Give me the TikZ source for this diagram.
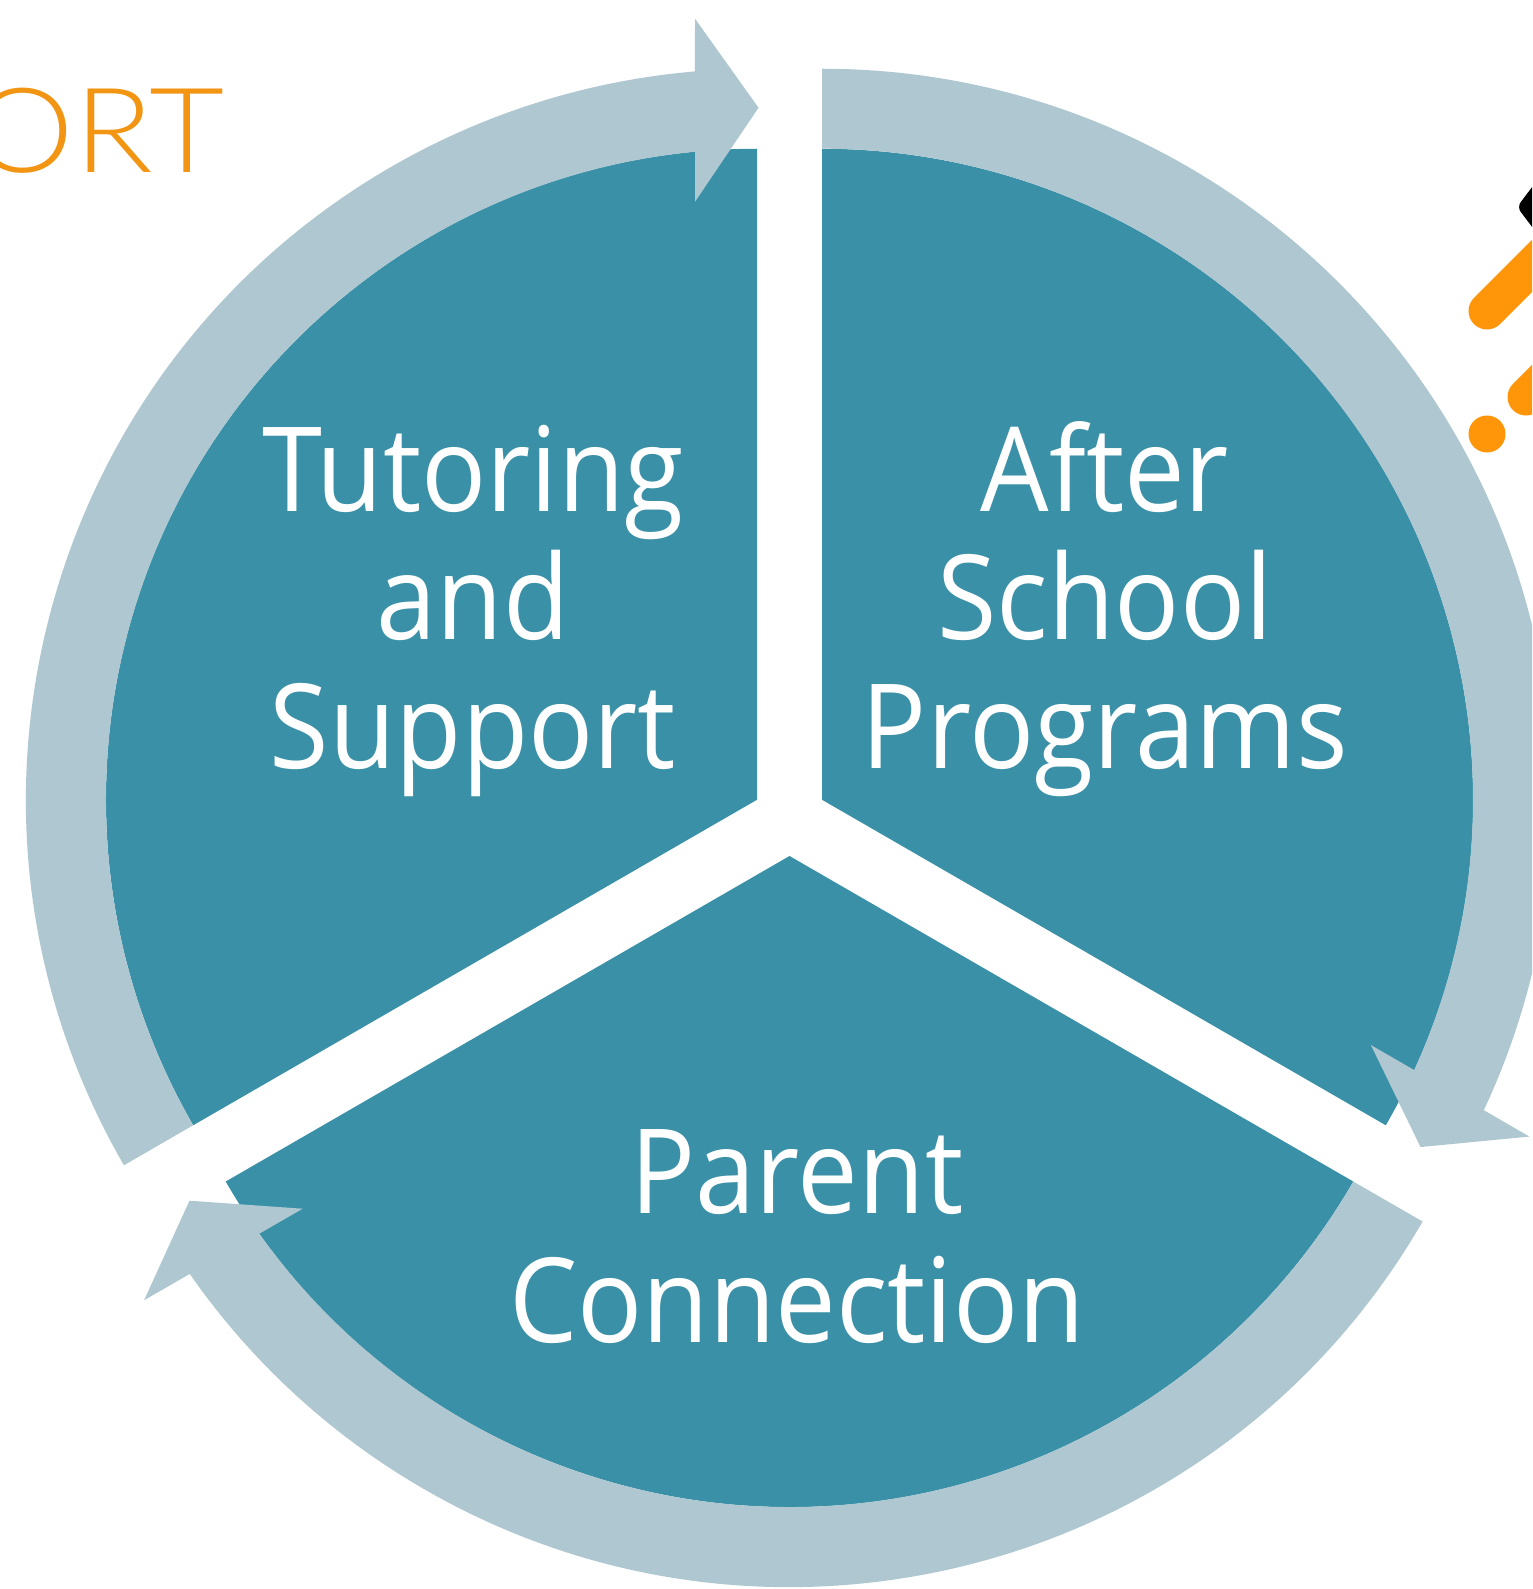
\documentclass[tikz,border=0pt]{standalone}
\usepackage{fontspec}
\setmainfont{Open Sans}[FakeStretch=0.92]
\IfFontExistsTF{Lato Light}{\newfontfamily\ortfont{Lato Light}[FakeStretch=1.1]}{\newfontfamily\ortfont{Lato}[FakeStretch=1.1]}
\definecolor{tealfill}{HTML}{3A91A7}
\definecolor{ringfill}{HTML}{AFC7D1}
\definecolor{ortorange}{HTML}{F29513}
\definecolor{decoorange}{HTML}{FF960A}
\tikzset{
  sector/.style={fill=tealfill},
  ringarrow/.style={fill=ringfill},
  segtext/.style={text=white, font=\fontsize{117.6}{128.5}\selectfont, align=center, inner sep=0pt},
  cyclearrow/.pic={
    \fill[ringarrow] (210:731pt) arc[start angle=210, end angle=94.87, radius=731pt]
      -- (-62,781) -- (1.5,692) -- (-62,598) -- (-62,648)
      arc[start angle=95.46, end angle=210, radius=651pt] -- cycle;
  }
}
\begin{document}
\begin{tikzpicture}[x=1pt,y=1pt]
\useasboundingbox (0,0) rectangle (1532,-1589);
\fill[white] (0,0) rectangle (1532,-1589);
\clip (0,0) rectangle (1532,-1589);
\coordinate (c1) at (757,-799.75);
\coordinate (c2) at (822,-799.75);
\coordinate (c3) at (789.5,-856);
% teal sectors
\fill[sector] (c1) -- +(90:651pt) arc[start angle=90, end angle=210, radius=651pt] -- cycle;
\fill[sector] (c2) -- +(-30:651pt) arc[start angle=-30, end angle=90, radius=651pt] -- cycle;
\fill[sector] (c3) -- +(210:651pt) arc[start angle=210, end angle=330, radius=651pt] -- cycle;
% ring arrows
\pic (a1) at (c1) {cyclearrow};
\pic[rotate=-120] (a2) at (c2) {cyclearrow};
\pic[rotate=-240] (a3) at (c3) {cyclearrow};
% labels (base anchor = baseline of last line)
\node[segtext, anchor=base] (tut) at (473,-768) {Tutoring\\and\\Support};
\node[segtext, anchor=base] (aft) at (1105,-768) {After\\School\\Programs};
\node[segtext, anchor=base] (par) at (797,-1342) {Parent\\Connection};
% title fragment
\node[anchor=base east, inner sep=0pt, text=ortorange, font=\ortfont\fontsize{118}{118}\selectfont] (ort) at (225,-173) {ORT};
% decoration at right edge
\fill[black, rounded corners=6pt] (1545,-170) -- (1517,-207) -- (1545,-244) -- cycle;
\draw[decoorange, line width=37pt, line cap=round] (1487,-311) -- (1570,-228);
\draw[decoorange, line width=37pt, line cap=round] (1526,-397) -- (1580,-343);
\fill[decoorange] (1487,-434) circle[radius=18.5pt];
\end{tikzpicture}
\end{document}
